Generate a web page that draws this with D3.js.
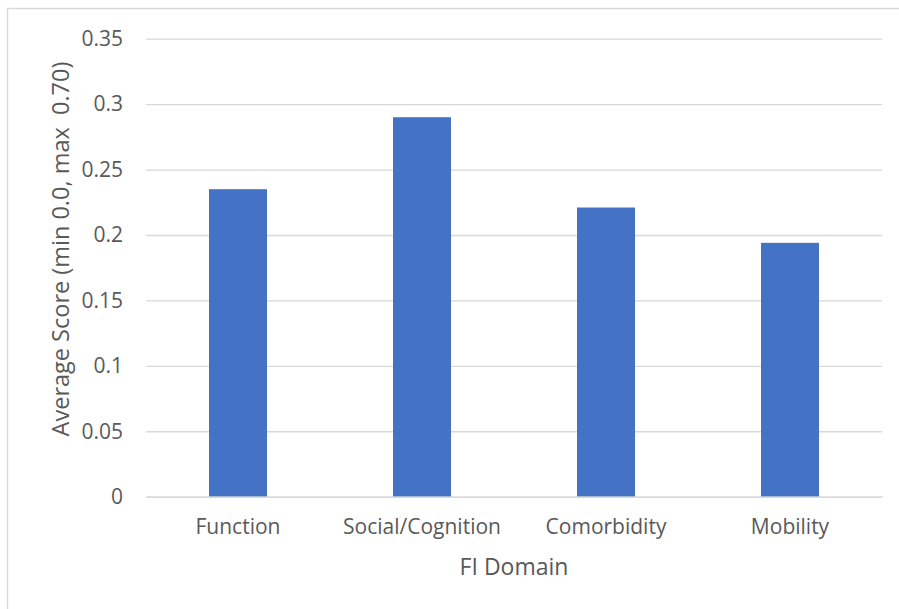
<!DOCTYPE html>
<html>
<head>
<meta charset="utf-8">
<script src="https://cdn.jsdelivr.net/npm/d3@7"></script>
<style>
  html, body { margin: 0; padding: 0; background: #fff; }
  svg { display: block; }
  text { font-family: "Open Sans", sans-serif; fill: #595959; }
</style>
</head>
<body>
<svg id="chart" width="899" height="609"></svg>
<script>
const categories = ["Function", "Social/Cognition", "Comorbidity", "Mobility"];
const values = [0.235, 0.29, 0.221, 0.194];
const yTicks = [0, 0.05, 0.1, 0.15, 0.2, 0.25, 0.3, 0.35];
const yTickLabels = ["0", "0.05", "0.1", "0.15", "0.2", "0.25", "0.3", "0.35"];
const xTitle = "FI Domain";
const yTitle = "Average Score (min 0.0, max  0.70)";

const FONT = "'Open Sans', sans-serif";
const svg = d3.select("#chart");

// chart border
svg.append("rect")
  .attr("x", 7.5).attr("y", 8.5)
  .attr("width", 1000).attr("height", 1000)
  .attr("fill", "none").attr("stroke", "#d9d9d9").attr("stroke-width", 1.5);

const plot = { left: 146, right: 882, top: 38.7, bottom: 496.7 };

const x = d3.scaleBand()
  .domain(categories)
  .range([plot.left, plot.right])
  .paddingInner(0.685)
  .paddingOuter(0.3425);

const y = d3.scaleLinear()
  .domain([0, 0.35])
  .range([plot.bottom, plot.top]);

// gridlines + y tick labels
const yAxis = d3.axisLeft(y)
  .tickValues(yTicks)
  .tickSize(-(plot.right - plot.left))
  .tickPadding(23)
  .tickFormat((d, i) => yTickLabels[i]);

const gy = svg.append("g")
  .attr("transform", `translate(${plot.left},0)`)
  .call(yAxis);
gy.select(".domain").remove();
gy.selectAll(".tick line").attr("stroke", "#d9d9d9").attr("stroke-width", 1.3);
gy.selectAll(".tick text")
  .attr("font-size", 21)
  .style("font-family", FONT)
  .attr("fill", "#595959");

// bars
svg.append("g").selectAll("rect")
  .data(values)
  .join("rect")
  .attr("x", (d, i) => x(categories[i]))
  .attr("width", x.bandwidth())
  .attr("y", d => y(d))
  .attr("height", d => y(0) - y(d))
  .attr("fill", "#4472C4");

// x axis
const xAxis = d3.axisBottom(x).tickSize(0).tickPadding(22);
const gx = svg.append("g")
  .attr("transform", `translate(0,${plot.bottom})`)
  .call(xAxis);
gx.select(".domain").attr("stroke", "#d9d9d9").attr("stroke-width", 1.3);
gx.selectAll(".tick text")
  .attr("font-size", 21)
  .style("font-family", FONT)
  .attr("fill", "#595959");

// axis titles
svg.append("text")
  .attr("x", (plot.left + plot.right) / 2)
  .attr("y", 575)
  .attr("text-anchor", "middle")
  .attr("font-size", 23)
  .text(xTitle);

svg.append("text")
  .attr("transform", "translate(69,249) rotate(-90)")
  .attr("text-anchor", "middle")
  .attr("font-size", 23.5)
  .style("white-space", "pre")
  .text(yTitle);
</script>
</body>
</html>
